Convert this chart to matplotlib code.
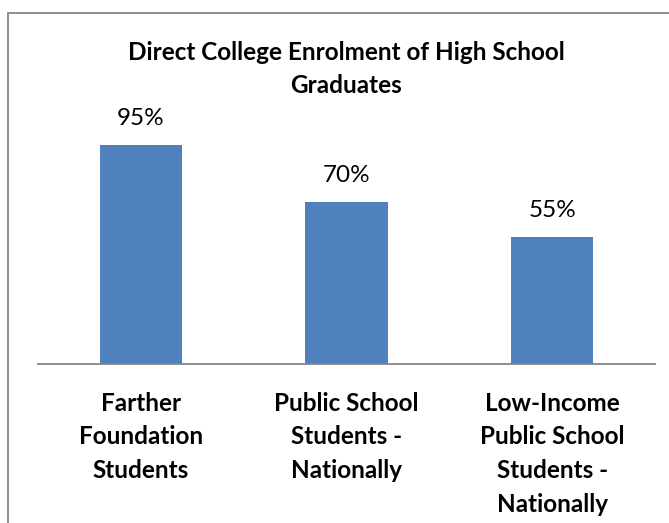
import matplotlib
matplotlib.use('Agg')
import matplotlib.pyplot as plt
from matplotlib.patches import Rectangle

categories = ['Farther\nFoundation\nStudents',
              'Public School\nStudents -\nNationally',
              'Low-Income\nPublic School\nStudents -\nNationally']
values = [0.95, 0.70, 0.55]
value_labels = ['95%', '70%', '55%']

W, H = 669, 523
fig = plt.figure(figsize=(W / 100, H / 100), dpi=100)
plt.rcParams['font.family'] = ['Lato', 'DejaVu Sans']

# outer chart border (only top and left visible in the crop)
fig.patches.append(Rectangle((8 / W, -0.1), 1.2, (H - 13) / H + 0.1,
                             transform=fig.transFigure, fill=False,
                             edgecolor='#868686', linewidth=1.3))

# axes: baseline at y=364 px, 100% at 231 px above
ax = fig.add_axes([38 / W, (H - 364) / H, (655 - 38) / W, 231 / H])
ax.bar(range(len(values)), values, width=0.4, color='#4F81BD')
ax.set_xlim(-0.5, 2.5)
ax.set_ylim(0, 1)
for s in ['top', 'right', 'left']:
    ax.spines[s].set_visible(False)
ax.spines['bottom'].set_color('#868686')
ax.spines['bottom'].set_linewidth(1.3)
ax.set_yticks([])
ax.set_xticks(range(len(values)))
ax.set_xticklabels(categories, fontsize=17.5, fontweight='bold',
                   linespacing=1.56, va='top')
ax.tick_params(axis='x', length=0, pad=20)

for i, (v, lab) in enumerate(zip(values, value_labels)):
    ax.annotate(lab, (i, v), xytext=(0, 11.5), textcoords='offset points',
                ha='center', va='bottom', fontsize=17.5)

fig.text(346 / W, 1 - 69 / H, 'Direct College Enrolment of High School\nGraduates',
         ha='center', va='center', fontsize=17.5, fontweight='bold',
         linespacing=1.56)

fig.savefig('out.png', dpi=100)
